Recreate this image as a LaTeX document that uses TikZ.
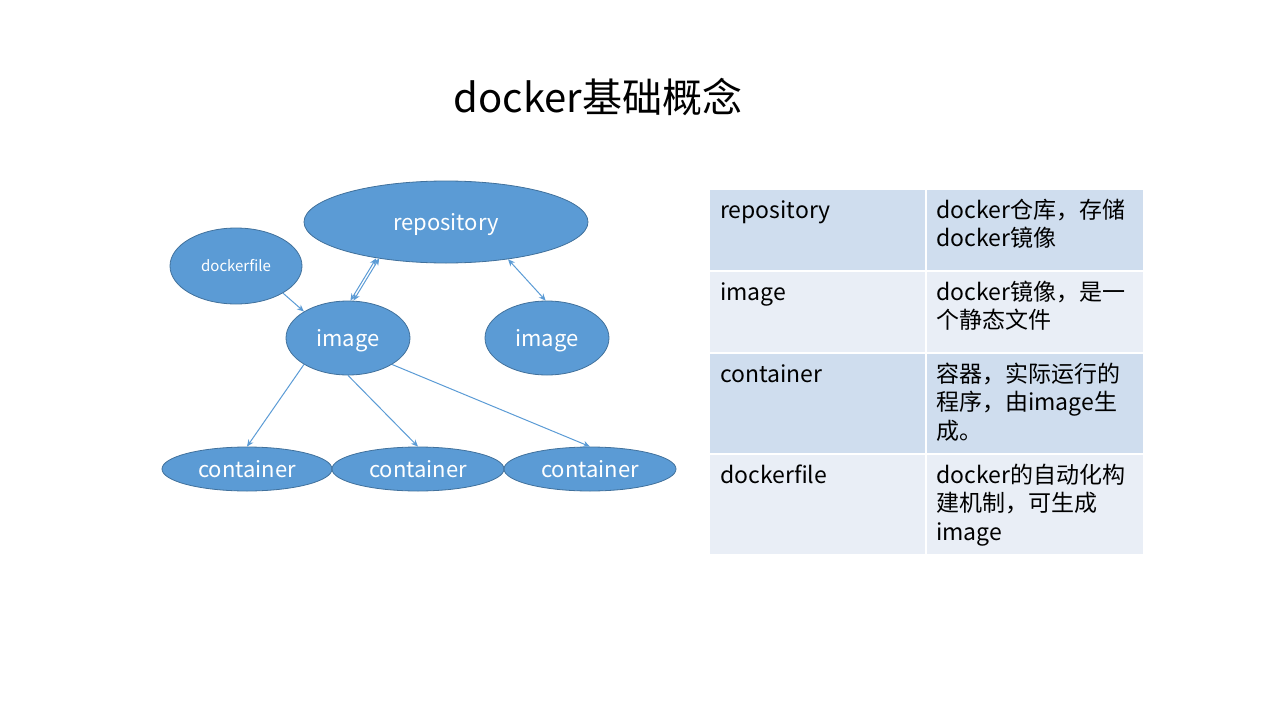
\documentclass[tikz,border=0pt]{standalone}
\usepackage{fontspec}
\setmainfont{Noto Sans CJK SC}
\usetikzlibrary{shapes.geometric}
\usetikzlibrary{arrows.meta}
\definecolor{nodeblue}{HTML}{5B9BD5}
\definecolor{nodeedge}{HTML}{41719C}
\definecolor{rowdark}{HTML}{CFDDEE}
\definecolor{rowlight}{HTML}{E9EEF6}

\begin{document}
\begin{tikzpicture}[x=1pt,y=-1pt,
  blob/.style={ellipse, draw=nodeedge, line width=0.8pt, fill=nodeblue, text=white, inner sep=0pt, text height=20pt, text depth=3pt, font=\fontsize{22}{26}\selectfont},
  link/.style={nodeblue, line width=1pt, -{Stealth[length=7pt,width=6pt]}},
  dlink/.style={nodeblue, line width=1pt, {Stealth[length=7pt,width=6pt]}-{Stealth[length=7pt,width=6pt]}},
  cell/.style={anchor=base west, inner sep=0pt, font=\fontsize{23}{28.5}\selectfont}]
  \useasboundingbox (0,0) rectangle (1280,720);

  \node[font=\fontsize{40}{48}\selectfont] (title) at (598,97) {docker基础概念};

  % graph
  \node[blob, minimum width=284pt, minimum height=82pt] (repo) at (446,222) {repository};
  \node[blob, minimum width=132pt, minimum height=76pt, text height=13pt, text depth=2pt, font=\fontsize{15}{18}\selectfont] (dockerfile) at (236,266) {dockerfile};
  \node[blob, minimum width=124pt, minimum height=74pt] (image1) at (348,338) {image};
  \node[blob, minimum width=124pt, minimum height=74pt] (image2) at (547,338) {image};
  \node[blob, minimum width=170pt, minimum height=44pt] (cont1) at (247,469) {container};
  \node[blob, minimum width=172pt, minimum height=44pt] (cont2) at (418,469) {container};
  \node[blob, minimum width=172pt, minimum height=44pt] (cont3) at (590,469) {container};

  \draw[link] (dockerfile.-30) -- (image1.149);
  \draw[dlink] ([xshift=-1.5pt]image1.84) -- ([xshift=-1.5pt]repo.208);
  \draw[dlink] ([xshift=1.5pt]image1.84) -- ([xshift=1.5pt]repo.208);
  \draw[dlink] (repo.-31) -- (image2.92);
  \draw[link] (image1.211) -- (cont1.north);
  \draw[link] (image1.south) -- (cont2.north);
  \draw[link] (image1.-31) -- (cont3.north);

  % table
  \foreach \ytop/\ybot/\rowcol in {190/270/rowdark,272/352/rowlight,354/453/rowdark,455/554/rowlight} {
    \fill[\rowcol] (710,\ytop) rectangle (925,\ybot);
    \fill[\rowcol] (927,\ytop) rectangle (1143,\ybot);
  }
  \node[cell] (k1) at (720,218) {repository};
  \node[cell] (v1) at (936,218) {\parbox[t]{205pt}{docker仓库，存储\\docker镜像}};
  \node[cell] (k2) at (720,300) {image};
  \node[cell] (v2) at (936,300) {\parbox[t]{205pt}{docker镜像，是一\\个静态文件}};
  \node[cell] (k3) at (720,382) {container};
  \node[cell] (v3) at (936,382) {\parbox[t]{205pt}{容器，实际运行的\\程序，由image生\\成。}};
  \node[cell] (k4) at (720,483) {dockerfile};
  \node[cell] (v4) at (936,483) {\parbox[t]{205pt}{docker的自动化构\\建机制，可生成\\image}};
\end{tikzpicture}
\end{document}
